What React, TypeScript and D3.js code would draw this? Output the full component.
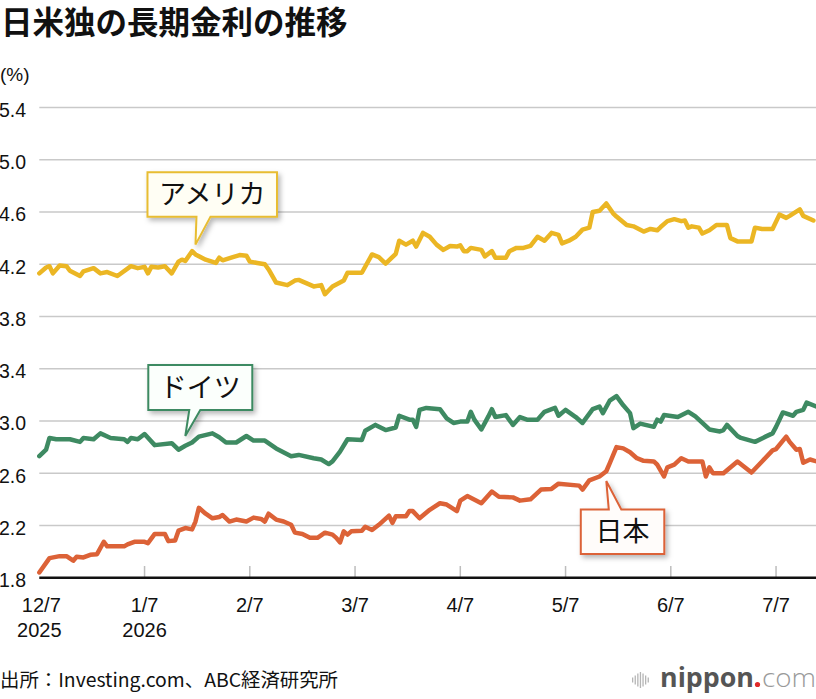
import React from "react";
import * as d3 from "d3";

// ---- data ----
const tickDates = ["2025-12-07", "2026-01-07", "2026-02-07", "2026-03-07", "2026-04-07", "2026-05-07", "2026-06-07", "2026-07-07", "2026-08-07"];
const tickLabels = ["12/7", "1/7", "2/7", "3/7", "4/7", "5/7", "6/7", "7/7"];
const yearLabels = ["2025", "2026"];
const yTicks = [1.8, 2.2, 2.6, 3.0, 3.4, 3.8, 4.2, 4.6, 5.0, 5.4];

type P = [string, number];

const usData: P[] = [
  ["12-07", 4.13], ["12-09", 4.175], ["12-10", 4.185], ["12-11", 4.13], ["12-13", 4.19], ["12-15", 4.185], ["12-16", 4.15],
  ["12-19", 4.11], ["12-20", 4.145], ["12-23", 4.17], ["12-25", 4.13], ["12-27", 4.14], ["12-30", 4.11], ["01-03", 4.185],
  ["01-05", 4.17], ["01-07", 4.18], ["01-08", 4.13], ["01-09", 4.18], ["01-11", 4.175], ["01-13", 4.185], ["01-15", 4.13],
  ["01-17", 4.22], ["01-18", 4.235], ["01-19", 4.225], ["01-21", 4.3], ["01-22", 4.275], ["01-25", 4.235], ["01-28", 4.21],
  ["01-29", 4.25], ["01-30", 4.23], ["02-02", 4.255], ["02-04", 4.27], ["02-06", 4.265], ["02-07", 4.22], ["02-09", 4.21],
  ["02-11", 4.2], ["02-12", 4.16], ["02-14", 4.06], ["02-17", 4.04], ["02-19", 4.075], ["02-20", 4.08], ["02-24", 4.03],
  ["02-26", 4.04], ["02-27", 3.97], ["03-01", 4.03], ["03-04", 4.075], ["03-05", 4.135], ["03-09", 4.135], ["03-12", 4.275],
  ["03-14", 4.255], ["03-16", 4.205], ["03-19", 4.28], ["03-20", 4.38], ["03-22", 4.35], ["03-24", 4.38], ["03-25", 4.335],
  ["03-27", 4.44], ["03-29", 4.41], ["03-31", 4.35], ["04-02", 4.31], ["04-04", 4.34], ["04-06", 4.335], ["04-07", 4.345],
  ["04-08", 4.3], ["04-09", 4.3], ["04-10", 4.325], ["04-13", 4.31], ["04-14", 4.26], ["04-16", 4.3], ["04-17", 4.25],
  ["04-20", 4.25], ["04-21", 4.3], ["04-23", 4.325], ["04-25", 4.325], ["04-27", 4.34], ["04-29", 4.41], ["05-01", 4.38],
  ["05-03", 4.44], ["05-05", 4.425], ["05-06", 4.36], ["05-08", 4.38], ["05-10", 4.41], ["05-12", 4.465], ["05-14", 4.48],
  ["05-15", 4.6], ["05-17", 4.61], ["05-19", 4.665], ["05-21", 4.59], ["05-22", 4.565], ["05-25", 4.5], ["05-27", 4.49],
  ["05-30", 4.45], ["06-01", 4.47], ["06-03", 4.46], ["06-04", 4.485], ["06-06", 4.53], ["06-08", 4.545], ["06-10", 4.53],
  ["06-11", 4.535], ["06-12", 4.48], ["06-13", 4.49], ["06-15", 4.48], ["06-16", 4.435], ["06-18", 4.46], ["06-20", 4.5],
  ["06-23", 4.5], ["06-24", 4.4], ["06-26", 4.375], ["06-30", 4.375], ["07-01", 4.48], ["07-03", 4.47], ["07-06", 4.47],
  ["07-08", 4.58], ["07-10", 4.555], ["07-11", 4.57], ["07-14", 4.62], ["07-15", 4.57], ["07-18", 4.535],
];

const deData: P[] = [
  ["12-07", 2.73], ["12-09", 2.78], ["12-10", 2.87], ["12-12", 2.86], ["12-16", 2.86], ["12-19", 2.84], ["12-20", 2.87],
  ["12-23", 2.86], ["12-25", 2.905], ["12-28", 2.87], ["01-01", 2.86], ["01-02", 2.84], ["01-03", 2.87], ["01-05", 2.86],
  ["01-07", 2.9], ["01-10", 2.815], ["01-15", 2.83], ["01-17", 2.78], ["01-19", 2.81], ["01-21", 2.835], ["01-23", 2.88],
  ["01-27", 2.905], ["01-29", 2.875], ["01-31", 2.835], ["02-03", 2.835], ["02-06", 2.885], ["02-08", 2.85], ["02-11", 2.85],
  ["02-14", 2.79], ["02-18", 2.73], ["02-20", 2.74], ["02-24", 2.715], ["02-26", 2.705], ["02-28", 2.67], ["03-01", 2.69],
  ["03-03", 2.765], ["03-05", 2.86], ["03-09", 2.855], ["03-10", 2.925], ["03-13", 2.97], ["03-16", 2.93], ["03-19", 2.95],
  ["03-20", 3.04], ["03-23", 3.01], ["03-24", 3.01], ["03-25", 2.955], ["03-26", 3.085], ["03-28", 3.1], ["04-01", 3.09],
  ["04-03", 3.02], ["04-05", 2.985], ["04-07", 2.995], ["04-09", 2.995], ["04-10", 3.07], ["04-11", 3.01], ["04-13", 2.935],
  ["04-15", 3.035], ["04-16", 3.09], ["04-17", 3.03], ["04-20", 3.045], ["04-22", 2.97], ["04-24", 3.03], ["04-26", 3.01],
  ["04-29", 3.01], ["05-01", 3.07], ["05-04", 3.1], ["05-05", 3.04], ["05-07", 3.085], ["05-10", 3.03], ["05-12", 2.985],
  ["05-15", 3.09], ["05-17", 3.11], ["05-18", 3.06], ["05-20", 3.155], ["05-22", 3.19], ["05-24", 3.12], ["05-26", 3.06],
  ["05-27", 2.945], ["05-29", 2.98], ["06-02", 2.955], ["06-03", 3.01], ["06-04", 2.995], ["06-05", 3.045], ["06-09", 3.03],
  ["06-12", 3.07], ["06-14", 3.035], ["06-18", 2.935], ["06-21", 2.92], ["06-22", 2.93], ["06-23", 2.97], ["06-26", 2.885],
  ["06-27", 2.87], ["07-01", 2.84], ["07-04", 2.88], ["07-06", 2.905], ["07-07", 2.955], ["07-09", 3.065], ["07-12", 3.04],
  ["07-13", 3.07], ["07-15", 3.085], ["07-16", 3.14], ["07-19", 3.11],
];

const jpData: P[] = [
  ["12-07", 1.84], ["12-10", 1.95], ["12-13", 1.965], ["12-15", 1.965], ["12-17", 1.93], ["12-18", 1.96], ["12-20", 1.955],
  ["12-22", 1.975], ["12-24", 1.98], ["12-26", 2.075], ["12-27", 2.04], ["01-01", 2.04], ["01-02", 2.055], ["01-04", 2.075],
  ["01-07", 2.075], ["01-08", 2.065], ["01-10", 2.135], ["01-13", 2.135], ["01-14", 2.08], ["01-16", 2.085], ["01-17", 2.16],
  ["01-19", 2.18], ["01-21", 2.17], ["01-22", 2.23], ["01-23", 2.335], ["01-25", 2.29], ["01-27", 2.255], ["01-29", 2.265],
  ["01-30", 2.28], ["02-01", 2.23], ["02-03", 2.245], ["02-06", 2.23], ["02-08", 2.26], ["02-10", 2.25], ["02-11", 2.23],
  ["02-12", 2.29], ["02-14", 2.245], ["02-16", 2.23], ["02-18", 2.205], ["02-19", 2.145], ["02-21", 2.135], ["02-23", 2.105],
  ["02-25", 2.105], ["02-27", 2.145], ["03-01", 2.13], ["03-02", 2.105], ["03-03", 2.07], ["03-04", 2.155], ["03-05", 2.13],
  ["03-06", 2.155], ["03-09", 2.16], ["03-10", 2.19], ["03-12", 2.165], ["03-14", 2.205], ["03-17", 2.275], ["03-18", 2.22],
  ["03-19", 2.27], ["03-22", 2.27], ["03-23", 2.31], ["03-24", 2.31], ["03-26", 2.255], ["03-29", 2.32], ["04-01", 2.37],
  ["04-03", 2.36], ["04-06", 2.31], ["04-07", 2.39], ["04-09", 2.425], ["04-13", 2.37], ["04-16", 2.46], ["04-18", 2.42],
  ["04-22", 2.415], ["04-24", 2.39], ["04-27", 2.4], ["04-30", 2.475], ["05-03", 2.48], ["05-05", 2.52], ["05-11", 2.505],
  ["05-12", 2.475], ["05-14", 2.545], ["05-17", 2.575], ["05-19", 2.615], ["05-20", 2.675], ["05-22", 2.8], ["05-24", 2.79],
  ["05-26", 2.76], ["05-28", 2.715], ["05-30", 2.695], ["06-02", 2.69], ["06-03", 2.665], ["06-05", 2.575], ["06-06", 2.645],
  ["06-08", 2.665], ["06-09", 2.69], ["06-10", 2.715], ["06-12", 2.69], ["06-16", 2.69], ["06-17", 2.575], ["06-18", 2.645],
  ["06-19", 2.6], ["06-22", 2.6], ["06-26", 2.69], ["06-30", 2.605], ["07-03", 2.69], ["07-06", 2.775], ["07-07", 2.785],
  ["07-10", 2.88], ["07-11", 2.84], ["07-13", 2.78], ["07-14", 2.785], ["07-15", 2.68], ["07-17", 2.705], ["07-19", 2.69],
];

// callout anchors: label, date and value at the pointer tip
const callouts: { label: string; date: string; value: number; color: string; fill: string; dir: "down" | "up"; box: [number, number, number, number]; base: [number, number] }[] = [
  { label: "アメリカ", date: "01-22", value: 4.35, color: "#e8bd32", fill: "#fffef4", dir: "down", box: [-48, -72.5, 129.5, 44.5], base: [1, 15] },
  { label: "ドイツ", date: "01-19", value: 2.885, color: "#3e8a62", fill: "#fbfffc", dir: "down", box: [-37, -71, 104, 45], base: [4, 15] },
  { label: "日本", date: "05-19", value: 2.54, color: "#dc6237", fill: "#fffcfa", dir: "up", box: [-25.5, 28.5, 83.5, 44.5], base: [2.5, 15] },
];

// ---- layout ----
const W = 816;
const H = 699;
const X0 = 39.3;
const X1 = 816;
const MONTH_W = 105.25;
const Y_TOP = 107.5;
const Y_BOT = 577.7;

const parseISO = d3.timeParse("%Y-%m-%d");
const md = (s: string) => parseISO((s.startsWith("12") ? "2025-" : "2026-") + s) as Date;

const x = d3
  .scaleTime()
  .domain(tickDates.map((d) => parseISO(d) as Date))
  .range(tickDates.map((_, i) => X0 + i * MONTH_W));
const y = d3.scaleLinear().domain([1.8, 5.4]).range([Y_BOT, Y_TOP]);

const line = d3
  .line<P>()
  .x((d) => x(md(d[0])))
  .y((d) => y(d[1]));

const NUM = "'Liberation Sans', Arial, Helvetica, sans-serif";
const JP = "'Noto Sans CJK JP', 'Noto Sans', sans-serif";

function calloutPath(c: (typeof callouts)[number]) {
  const tx = x(md(c.date));
  const ty = y(c.value);
  const [bx, by, bw, bh] = c.box;
  const l = tx + bx, t = ty + by, r = l + bw, b = t + bh;
  const b0 = tx + c.base[0], b1 = tx + c.base[1];
  let p: string;
  if (c.dir === "down") {
    p = `M${l},${t}H${r}V${b}H${b1}L${tx},${ty}L${b0},${b}H${l}Z`;
  } else {
    p = `M${l},${t}H${b0}L${tx},${ty}L${b1},${t}H${r}V${b}H${l}Z`;
  }
  return { p, cx: (l + r) / 2, cy: (t + b) / 2 };
}

export default function App() {
  const logoBars = [5, 9, 13, 16, 13, 9, 5];
  return (
    <svg width={W} height={H} style={{ position: "absolute", left: 0, top: 0, background: "#fff" }}>
      <defs>
        <clipPath id="plot">
          <rect x={X0 - 3} y={0} width={X1 - X0 + 3} height={H} />
        </clipPath>
        <filter id="shadow" x="-20%" y="-20%" width="150%" height="170%">
          <feDropShadow dx="2.5" dy="3" stdDeviation="2.5" floodColor="#000" floodOpacity="0.28" />
        </filter>
      </defs>
      <rect width={W} height={H} fill="#fff" />

      {/* title */}
      <text x={1} y={34} fontFamily={JP} fontWeight={700} fontSize={31.5} fill="#111">
        日米独の長期金利の推移
      </text>
      <text x={0} y={81} fontFamily={NUM} fontSize={19} fill="#111">
        (%)
      </text>

      {/* grid */}
      {yTicks.slice(1).map((v) => (
        <line key={v} x1={X0} x2={X1} y1={y(v)} y2={y(v)} stroke="#c9c9c9" strokeWidth={1.5} />
      ))}
      {yTicks.map((v) => (
        <text key={"l" + v} x={-1} y={y(v) + 9.5} fontFamily={NUM} fontSize={19.5} fill="#111">
          {v.toFixed(1)}
        </text>
      ))}

      {/* month ticks */}
      {tickLabels.map((t, i) => {
        const xx = x(parseISO(tickDates[i]) as Date);
        return (
          <g key={t}>
            {i > 0 && <line x1={xx} x2={xx} y1={566} y2={Y_BOT} stroke="#bdbdbd" strokeWidth={1.5} />}
            <text x={xx + (i === 0 ? 2 : 0)} y={612} textAnchor="middle" fontFamily={NUM} fontSize={20} fill="#111">
              {t}
            </text>
            {i < yearLabels.length && (
              <text x={xx} y={637} textAnchor="middle" fontFamily={NUM} fontSize={20} fill="#111">
                {yearLabels[i]}
              </text>
            )}
          </g>
        );
      })}

      {/* lines */}
      <g clipPath="url(#plot)" fill="none" strokeWidth={4.5} strokeLinejoin="round" strokeLinecap="round">
        <path d={line(jpData) || ""} stroke="#dc6237" />
        <path d={line(deData) || ""} stroke="#3e8a62" />
        <path d={line(usData) || ""} stroke="#ebb624" />
      </g>

      {/* baseline */}
      <line x1={X0} x2={X1} y1={Y_BOT} y2={Y_BOT} stroke="#111" strokeWidth={2.6} />

      {/* callouts */}
      {callouts.map((c) => {
        const { p, cx, cy } = calloutPath(c);
        return (
          <g key={c.label}>
            <path d={p} fill={c.fill} stroke={c.color} strokeWidth={2} strokeLinejoin="miter" filter="url(#shadow)" />
            <text x={cx} y={cy + 9.5} textAnchor="middle" fontFamily={JP} fontSize={27} fill="#111">
              {c.label}
            </text>
          </g>
        );
      })}

      {/* source */}
      <text x={0} y={687} fontFamily={JP} fontSize={19} fill="#111" textLength={338} lengthAdjust="spacingAndGlyphs">
        出所：Investing.com、ABC経済研究所
      </text>

      {/* logo */}
      <g>
        {logoBars.map((h, i) => (
          <rect key={i} x={632 + i * 2.6} y={680 - h / 2} width={1.3} height={h} fill="#b5b5b5" />
        ))}
        <text x={660} y={687} fontFamily={"'Open Sans', 'Noto Sans', sans-serif"} fontWeight={700} fontSize={26} fill="#555" textLength={94} lengthAdjust="spacingAndGlyphs">
          nippon
        </text>
        <circle cx={757.5} cy={684.5} r={2.6} fill="#e02a2a" />
        <text x={762} y={687} fontFamily={"'Open Sans', 'Noto Sans', sans-serif"} fontWeight={300} fontSize={26} fill="#9a9a9a" textLength={54} lengthAdjust="spacingAndGlyphs">
          com
        </text>
      </g>
    </svg>
  );
}
